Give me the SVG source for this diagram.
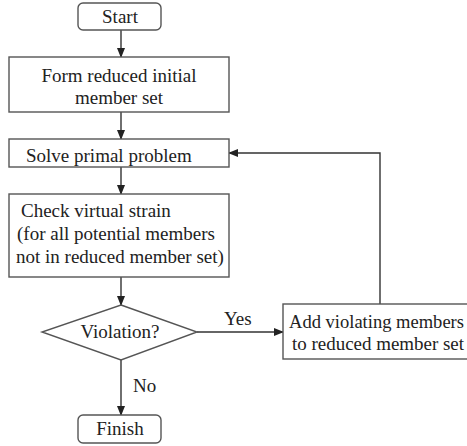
<svg xmlns="http://www.w3.org/2000/svg" width="467" height="446" viewBox="0 0 467 446">
<defs>
<marker id="ah" markerWidth="10" markerHeight="8" refX="9" refY="4" orient="auto" markerUnits="userSpaceOnUse">
<path d="M0,0 L10,4 L0,8 Z" fill="#222"/>
</marker>
<style>
.box{fill:#fff;stroke:#555;stroke-width:1.4}
.t{font-family:"Liberation Serif","Times New Roman",serif;font-size:19px;fill:#222}
.c{text-anchor:middle}
.ln{fill:none;stroke:#333;stroke-width:1.4}
</style>
</defs>
<rect width="467" height="446" fill="#fff"/>
<g id="connectors">
<line class="ln" x1="121" y1="30" x2="121" y2="57" marker-end="url(#ah)"/>
<line class="ln" x1="121" y1="112" x2="121" y2="139" marker-end="url(#ah)"/>
<line class="ln" x1="121" y1="167" x2="121" y2="194" marker-end="url(#ah)"/>
<line class="ln" x1="121" y1="277" x2="121" y2="305" marker-end="url(#ah)"/>
<line class="ln" x1="197" y1="332" x2="283" y2="332" marker-end="url(#ah)"/>
<polyline class="ln" points="380,304 380,153 229,153" marker-end="url(#ah)"/>
<line class="ln" x1="121" y1="360" x2="121" y2="415" marker-end="url(#ah)"/>
<text class="t" x="224" y="325">Yes</text>
<text class="t" x="133" y="392">No</text>
</g>
<g id="start">
<rect class="box" x="78" y="3" width="83" height="27" rx="5"/>
<text class="t c" x="120" y="23">Start</text>
</g>
<g id="form">
<rect class="box" x="9" y="57" width="220" height="55"/>
<text class="t c" x="119" y="82">Form reduced initial</text>
<text class="t c" x="119" y="104">member set</text>
</g>
<g id="solve">
<rect class="box" x="9" y="139" width="220" height="28"/>
<text class="t" x="26" y="162">Solve primal problem</text>
</g>
<g id="check">
<rect class="box" x="9" y="194" width="220" height="83"/>
<text class="t" x="21" y="217">Check virtual strain</text>
<text class="t" x="17" y="240">(for all potential members</text>
<text class="t" x="16" y="263">not in reduced member set)</text>
</g>
<g id="violation">
<polygon class="box" points="121,305 197,332 121,360 42,332"/>
<text class="t c" x="120" y="338">Violation?</text>
</g>
<g id="add">
<rect class="box" x="283" y="304" width="200" height="55"/>
<text class="t" x="289" y="328" textLength="175" lengthAdjust="spacingAndGlyphs">Add violating members</text>
<text class="t" x="292" y="350" textLength="172" lengthAdjust="spacingAndGlyphs">to reduced member set</text>
</g>
<g id="finish">
<rect class="box" x="78" y="415" width="83" height="28" rx="5"/>
<text class="t c" x="120" y="435">Finish</text>
</g>
</svg>
